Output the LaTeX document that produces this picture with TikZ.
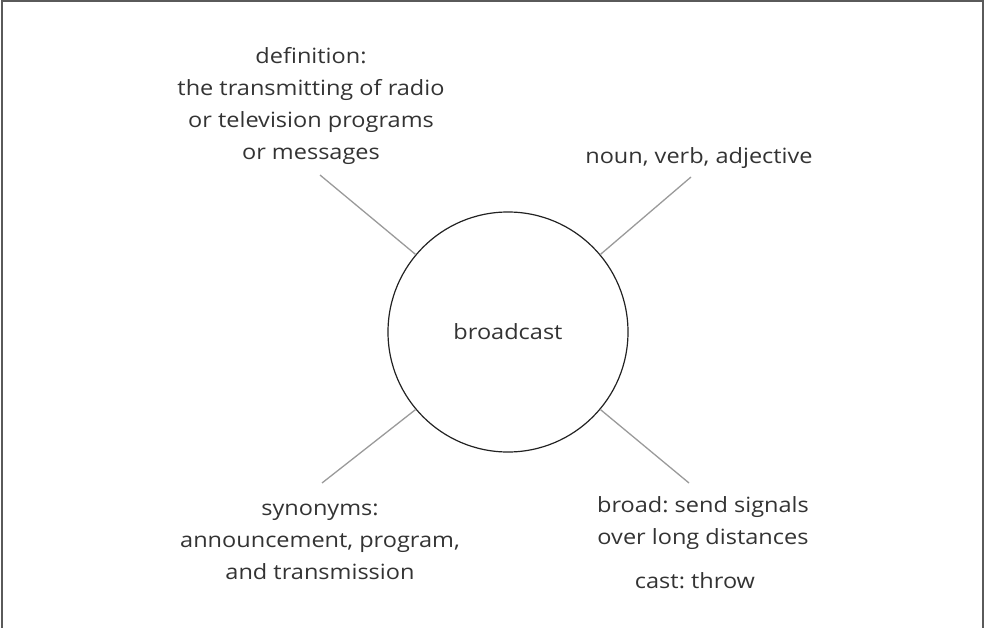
\documentclass[tikz,border=0pt]{standalone}
\usepackage{fontspec}
\setmainfont{Open Sans}[FakeStretch=1.12]
\frenchspacing
\definecolor{framegray}{HTML}{5A5A5A}
\definecolor{linegray}{HTML}{9A9A9A}
\definecolor{textgray}{HTML}{333333}
\definecolor{circlegray}{HTML}{222222}
\tikzset{
  lbl/.style={text=textgray, align=center, font=\fontsize{21}{32}\selectfont, inner sep=0pt},
  conn/.style={draw=linegray, line width=1.3pt},
  hub/.style={circle, draw=circlegray, line width=1.2pt, minimum size=240pt, inner sep=0pt, text=textgray, font=\fontsize{21}{32}\selectfont},
  framestyle/.style={draw=framegray, line width=2pt}
}
\begin{document}
\begin{tikzpicture}[x=1pt,y=-1pt]
\useasboundingbox (0,0) rectangle (985,628);
\draw[framestyle] (2,628) -- (2,1.5) -- (982.5,1.5) -- (982.5,628);
\node[hub] (c) at (508,332) {broadcast};
\node[lbl] (def) at (311,106) {definition:\\the transmitting of radio\\or television programs\\or messages};
\node[lbl] (pos) at (699,158) {noun, verb, adjective};
\node[lbl] (syn) at (320,542) {synonyms:\\announcement, program,\\and transmission};
\node[lbl] (broad) at (703,523) {broad: send signals\\over long distances};
\node[lbl] (cast) at (695,581) {cast: throw};
\coordinate (ul) at (320,175);
\coordinate (ur) at (691,177);
\coordinate (lr) at (689,483);
\coordinate (ll) at (322,483);
\draw[conn] (c.140) -- (ul);
\draw[conn] (c.40) -- (ur);
\draw[conn] (c.-40) -- (lr);
\draw[conn] (c.-140) -- (ll);
\end{tikzpicture}
\end{document}
